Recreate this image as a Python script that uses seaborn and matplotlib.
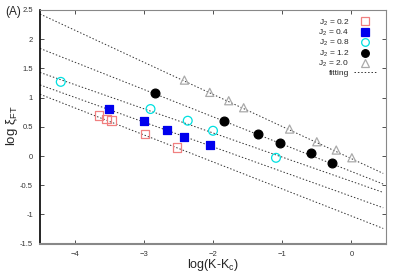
import numpy as np
import pandas as pd
import matplotlib
matplotlib.use("Agg")
import matplotlib.pyplot as plt
import seaborn as sns

sns.set_style("ticks")
plt.rcParams['font.family'] = ['Liberation Sans', 'DejaVu Sans']
plt.rcParams['mathtext.fontset'] = 'custom'
plt.rcParams['mathtext.rm'] = 'Liberation Sans'
plt.rcParams['mathtext.it'] = 'Liberation Sans:italic'

# data
x_02 = [-3.65, -3.54, -3.47, -2.98, -2.52]
y_02 = [0.69, 0.633, 0.604, 0.377, 0.149]
x_04 = [-3.505, -3.0, -2.663, -2.413, -2.04]
y_04 = [0.805, 0.60, 0.445, 0.33, 0.19]
x_08 = [-4.2, -2.903, -2.365, -2.0, -1.09]
y_08 = [1.27, 0.805, 0.605, 0.433, -0.03]
x_12 = [-2.836, -1.846, -1.35, -1.027, -0.584, -0.282]
y_12 = [1.073, 0.605, 0.37, 0.217, 0.046, -0.125]
x_20 = [-2.413, -2.047, -1.773, -1.557, -0.893, -0.50, -0.219, 0.007]
y_20 = [1.30, 1.09, 0.947, 0.827, 0.462, 0.245, 0.103, -0.029]

fit_slopes = [-0.55, -0.468, -0.414, -0.424, -0.463]
fit_intercepts = [-0.044, -0.264, -0.432, -0.69, -1.026]
fit_xrange = [-4.5, 0.46]

labels = ["J$_2$ = 0.2", "J$_2$ = 0.4", "J$_2$ = 0.8", "J$_2$ = 1.2", "J$_2$ = 2.0"]

fig = plt.figure(figsize=(3.99, 2.79), dpi=100)
ax = fig.add_axes([40/399, 1-243.7/279, 346/399, 233.7/279])

# fitting lines
xs = np.linspace(fit_xrange[0], fit_xrange[1], 50)
for i, (m, b) in enumerate(zip(fit_slopes, fit_intercepts)):
    df = pd.DataFrame({"x": xs, "y": m*xs + b})
    sns.lineplot(data=df, x="x", y="y", ax=ax, color="#333333", lw=0.7,
                 linestyle=(0, (1.5, 2.0)), legend=False, zorder=1)

styles = [
    (x_02, y_02, 's', 'none', '#f08080', 38),
    (x_04, y_04, 's', '#0000ee', '#0000ee', 38),
    (x_08, y_08, 'o', 'none', '#00e0e0', 40),
    (x_12, y_12, 'o', 'black', 'black', 40),
    (x_20, y_20, '^', 'none', '#aaaaaa', 34),
]
handles = []
for (xv, yv, mk, fc, ec, sz), lab in zip(styles, labels):
    df = pd.DataFrame({"x": xv, "y": yv})
    sns.scatterplot(data=df, x="x", y="y", ax=ax, marker=mk, s=sz,
                    facecolor=fc, edgecolor=ec, linewidth=0.9, zorder=3, legend=False)
    h = plt.Line2D([], [], marker=mk, linestyle='none', markerfacecolor=fc,
                   markeredgecolor=ec, markersize=5.5, markeredgewidth=0.9)
    handles.append(h)
fh = plt.Line2D([], [], color="#333333", lw=0.7, linestyle=(0, (1.5, 2.0)))
handles.append(fh)

ax.legend(handles, labels + ["fitting"], loc='upper right', frameon=False,
          markerfirst=False, fontsize=6, handlelength=2.6, handletextpad=0.6,
          labelspacing=0.02, borderaxespad=0.2, bbox_to_anchor=(0.985, 0.99))

ax.set_xlim(-4.5, 0.5)
ax.set_ylim(-1.5, 2.5)
ax.set_xticks([-4, -3, -2, -1, 0])
ax.set_yticks([-1.5, -1, -0.5, 0, 0.5, 1, 1.5, 2, 2.5])
ax.set_yticklabels(["-1.5", "-1", "-0.5", "0", "0.5", "1", "1.5", "2", "2.5"])
ax.tick_params(direction='in', length=3, width=0.6, labelsize=5.5, top=True, right=True,
               colors='#333333', labelcolor='#333333', pad=5)
for s in ['top', 'right', 'bottom']:
    ax.spines[s].set_color('#888888')
ax.spines['bottom'].set_linewidth(1.5)
ax.spines['top'].set_linewidth(0.8)
ax.spines['right'].set_linewidth(0.8)
ax.spines['left'].set_color('black')
ax.spines['left'].set_linewidth(1.2)

ax.set_xlabel("log(K-K$_\\mathrm{c}$)", fontsize=9)
ax.set_ylabel("log ξ$_\\mathrm{FT}$", fontsize=9.5)
ax.xaxis.set_label_coords((213-40)/346, -(265-243.7)/233.7)
ax.yaxis.set_label_coords(-(40-12)/346, (243.7-126)/233.7)
ax.xaxis.label.set_va('center')
ax.yaxis.label.set_va('center')
fig.text(5/399, 1-12/279, "(A)", fontsize=8.5, va='center', ha='left')

fig.savefig("out.png", dpi=100)
